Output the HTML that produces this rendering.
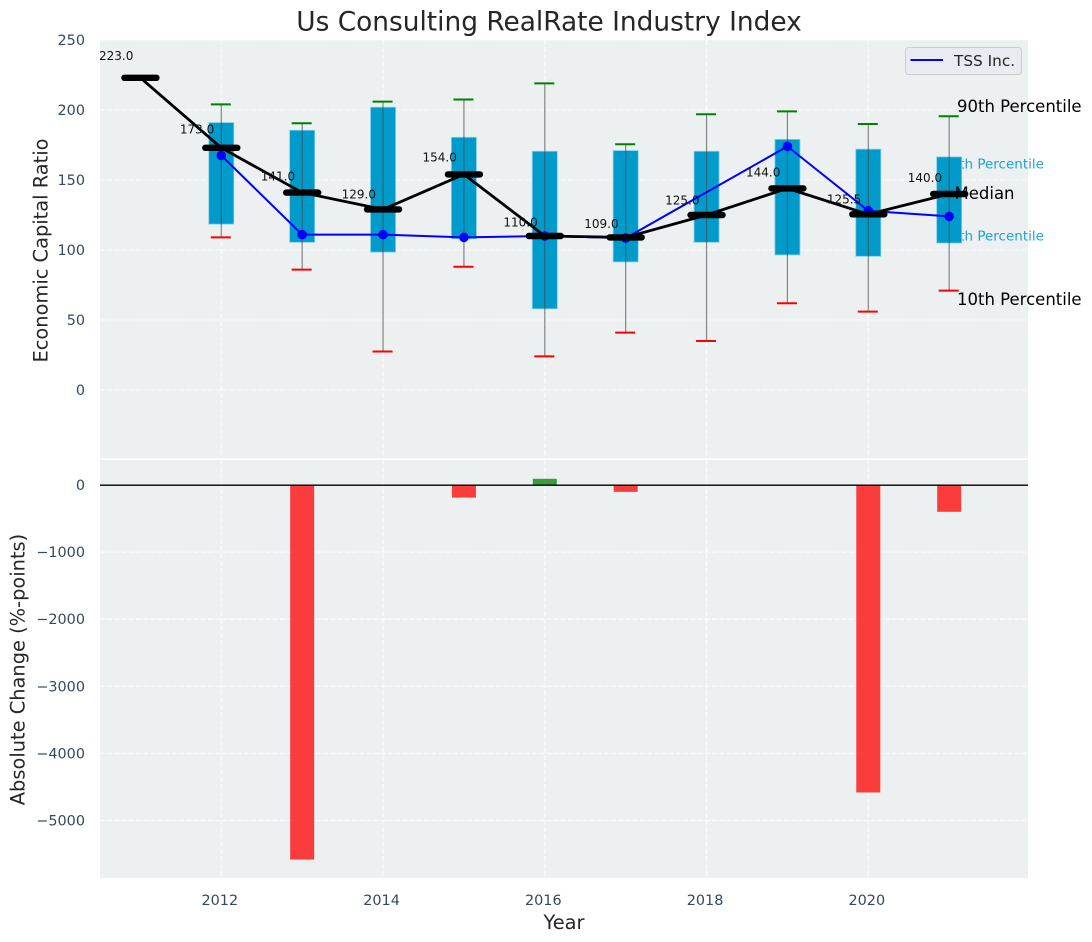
<!DOCTYPE html>
<html>
<head>
<meta charset="utf-8">
<title>Us Consulting RealRate Industry Index</title>
<style>
html,body{margin:0;padding:0;background:#fff;width:1092px;height:942px;overflow:hidden}
svg{display:block}
text{font-family:"DejaVu Sans","Liberation Sans",sans-serif}
.tick{font-size:14.4px;fill:#34495e}
.axis-title{font-size:19.4px;fill:#262626}
</style>
</head>
<body>
<svg id="chart" width="1092" height="942" viewBox="0 0 1092 942" xmlns="http://www.w3.org/2000/svg">
  <text x="549" y="30.5" text-anchor="middle" font-size="26.4" fill="#262626">Us Consulting RealRate Industry Index</text>
  <rect x="100" y="40" width="928" height="418.3" fill="#ecf0f1"/>
  <rect x="100" y="460" width="928" height="417.8" fill="#ecf0f1"/>
  <g id="grid"></g>
  <text x="942" y="168.5" font-size="13.5" fill="#1ba3d1">75th Percentile</text>
  <text x="942" y="240.5" font-size="13.5" fill="#1ba3d1">25th Percentile</text>
  <g id="boxes"></g>
  <g id="whiskers"></g>
  <g id="company"></g>
  <g id="medians"></g>
  <g id="changes"></g>
  <line x1="100" x2="1028" y1="485.2" y2="485.2" stroke="#000" stroke-width="1.4"/>
  <g id="ticks"></g>
  <text x="957" y="112" font-size="16.5" fill="#000">90th Percentile</text>
  <text x="954.5" y="199" font-size="16.5" fill="#000">Median</text>
  <text x="957" y="305" font-size="16.5" fill="#000">10th Percentile</text>
  <text class="axis-title" transform="translate(47.7,250.5) rotate(-90)" text-anchor="middle">Economic Capital Ratio</text>
  <text class="axis-title" transform="translate(24.7,669.5) rotate(-90)" text-anchor="middle">Absolute Change (%-points)</text>
  <text class="axis-title" x="564" y="929" text-anchor="middle">Year</text>
  <g>
    <rect x="905.5" y="47.5" width="116" height="27" rx="3" fill="#eaeaf2" stroke="#cccccc" stroke-width="1"/>
    <line x1="910.5" x2="943" y1="60" y2="60" stroke="#0000ff" stroke-width="2"/>
    <text x="954" y="66" font-size="15.3" fill="#262626">TSS Inc.</text>
  </g>
</svg>
<script>
var years = [2012, 2013, 2014, 2015, 2016, 2017, 2018, 2019, 2020, 2021];
var p90 = [204, 190.5, 206, 207.5, 219, 175.5, 197, 199, 190, 195.5];
var p75 = [191, 185.5, 202, 180.5, 170.5, 171, 170.5, 179, 172, 166.5];
var p25 = [118.5, 105.5, 98.5, 108, 58, 91.5, 105.5, 96.5, 95.5, 105];
var p10 = [109, 86, 27.5, 88, 24, 41, 35, 62, 56, 71];
var medianYears = [2011, 2012, 2013, 2014, 2015, 2016, 2017, 2018, 2019, 2020, 2021];
var medianValues = [223, 173, 141, 129, 154, 110, 109, 125, 144, 125.5, 140];
var tssValues = [167.5, 111, 111, 109, 110, 108.5, null, 174, 128, 124];
var changeYears = [2013, 2015, 2016, 2017, 2020, 2021];
var changeValues = [-5575, -180, 85, -95, -4575, -392];
var topTicks = [0, 50, 100, 150, 200, 250];
var bottomTicks = [0, -1000, -2000, -3000, -4000, -5000];
var yearTicks = [2012, 2014, 2016, 2018, 2020];

var NS = 'http://www.w3.org/2000/svg';
function xPos(year) { return 221.3 + (year - 2012) * 80.875; }
function yTop(value) { return 390 - value * 1.4; }
function yBottom(value) { return 485 - value * 0.0671; }
function make(parentId, tag, attrs, content) {
  var node = document.createElementNS(NS, tag);
  for (var key in attrs) { node.setAttribute(key, attrs[key]); }
  if (content !== undefined) { node.textContent = content; }
  document.getElementById(parentId).appendChild(node);
  return node;
}
function gridStyle(x1, x2, y1, y2) {
  return { x1: x1, x2: x2, y1: y1, y2: y2, stroke: '#ffffff', 'stroke-width': 1.1, 'stroke-dasharray': '5 2.2', opacity: 0.85 };
}
var el;

yearTicks.forEach(function (year) {
  el = make('grid', 'line', gridStyle(xPos(year), xPos(year), 40, 458.3));
  
  
  el = make('grid', 'line', gridStyle(xPos(year), xPos(year), 460, 877.8));
  
  
  el = make('ticks', 'text', { x: xPos(year) - 1.5, y: 905, 'text-anchor': 'middle', 'class': 'tick' }, String(year));
  
  
});

topTicks.forEach(function (value) {
  el = make('grid', 'line', gridStyle(100, 1028, yTop(value), yTop(value)));
  
  
  el = make('ticks', 'text', { x: 85, y: yTop(value) + 5, 'text-anchor': 'end', 'class': 'tick' }, String(value));
  
  
});

bottomTicks.forEach(function (value) {
  el = make('grid', 'line', gridStyle(100, 1028, yBottom(value), yBottom(value)));
  
  
  el = make('ticks', 'text', { x: 85, y: yBottom(value) + 5, 'text-anchor': 'end', 'class': 'tick' }, String(value).replace('-', '\u2212'));
  
  
});

years.forEach(function (year, i) {
  var cx = xPos(year);
  el = make('boxes', 'rect', { x: cx - 12.5, y: yTop(p75[i]), width: 25, height: yTop(p25[i]) - yTop(p75[i]), fill: '#009acb', stroke: '#7fcde6', 'stroke-width': 0.8 });
  
  
  el = make('whiskers', 'line', { x1: cx, x2: cx, y1: yTop(p90[i]), y2: yTop(p10[i]), stroke: '#4a4a4a', 'stroke-width': 1.2, opacity: 0.65 });
  
  
  el = make('whiskers', 'line', { x1: cx - 10.5, x2: cx + 9.5, y1: yTop(p90[i]), y2: yTop(p90[i]), stroke: '#008000', 'stroke-width': 2 });
  
  
  el = make('whiskers', 'line', { x1: cx - 10.5, x2: cx + 9.5, y1: yTop(p10[i]), y2: yTop(p10[i]), stroke: '#ff0000', 'stroke-width': 2 });
  
  
});

var tssPoints = [];
years.forEach(function (year, i) {
  if (tssValues[i] !== null) { tssPoints.push(xPos(year) + ',' + yTop(tssValues[i])); }
});
el = make('company', 'polyline', { points: tssPoints.join(' '), fill: 'none', stroke: '#0000ff', 'stroke-width': 2 });


years.forEach(function (year, i) {
  if (tssValues[i] === null) { return; }
  el = make('company', 'circle', { cx: xPos(year), cy: yTop(tssValues[i]), r: 4.8, fill: '#0000ff' });
  
  
});

var medianPoints = medianYears.map(function (year, i) { return xPos(year) + ',' + yTop(medianValues[i]); });
el = make('medians', 'polyline', { points: medianPoints.join(' '), fill: 'none', stroke: '#000000', 'stroke-width': 2.8 });


medianYears.forEach(function (year, i) {
  var cx = xPos(year), cy = yTop(medianValues[i]);
  el = make('medians', 'line', { x1: cx - 16, x2: cx + 16, y1: cy, y2: cy, stroke: '#000000', 'stroke-width': 6.4, 'stroke-linecap': 'round' });
  
  
  el = make('medians', 'text', { x: xPos(year - 0.3), y: yTop(medianValues[i] * 1.05) - 2, 'text-anchor': 'middle', 'font-size': 12, fill: '#111111' }, medianValues[i].toFixed(1));
  
  
});

changeYears.forEach(function (year, i) {
  var value = changeValues[i];
  var y0 = Math.min(yBottom(0), yBottom(value));
  var h = Math.abs(yBottom(value) - yBottom(0));
  el = make('changes', 'rect', { x: xPos(year) - 11.5, y: y0, width: 23, height: h, fill: value < 0 ? '#ff0000' : '#008000', stroke: value < 0 ? '#ff0000' : '#008000', 'stroke-width': 1, opacity: 0.75 });
  
  
});
</script>
</body>
</html>
